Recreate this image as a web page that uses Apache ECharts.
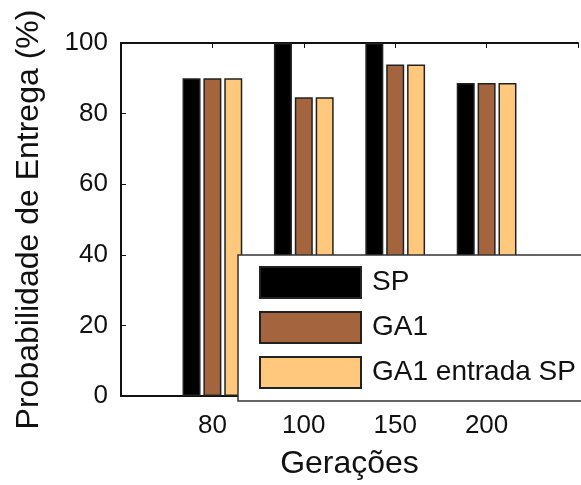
<!DOCTYPE html>
<html>
<head>
<meta charset="utf-8">
<script src="https://cdn.jsdelivr.net/npm/echarts@6/dist/echarts.min.js"></script>
<style>
  html, body { margin: 0; padding: 0; background: #fff; }
  #chart { width: 581px; height: 485px; }
</style>
</head>
<body>
<div id="chart"></div>
<script>
// gerações (categorias no eixo x)
const categories = ['80', '100', '150', '200'];
// probabilidade de entrega (%)
const spValues = [90, 100, 100, 88.7];
const ga1Values = [90, 84.6, 93.9, 88.7];
const ga1spValues = [90, 84.6, 93.9, 88.7];
const yTicks = [0, 20, 40, 60, 80, 100];

const FONT = 'Liberation Sans, Arial, sans-serif';

// posição 1..4 no eixo de valores
function toPoints(vals) {
  return vals.map(function (v, i) { return [i + 1, v]; });
}

const chart = echarts.init(document.getElementById('chart'), null, { renderer: 'canvas' });

const barCommon = {
  type: 'bar',
  barWidth: 18,
  barGap: '16%'
};

chart.setOption({
  animation: false,
  backgroundColor: '#fff',
  grid: { left: 121, top: 43, width: 470, height: 362 },
  legend: {
    orient: 'vertical',
    left: 238,
    top: 255,
    padding: [11, 60, 12, 21],
    itemWidth: 101,
    itemHeight: 31,
    itemGap: 12,
    icon: 'rect',
    backgroundColor: '#fff',
    borderColor: '#333',
    borderWidth: 1.5,
    textStyle: { fontFamily: FONT, fontSize: 28, color: '#111', padding: [0, 0, 0, 6] },
    data: ['SP', 'GA1', 'GA1 entrada SP']
  },
  xAxis: [{
    type: 'value',
    min: 0, max: 5, interval: 1,
    name: 'Gerações',
    nameLocation: 'middle',
    nameGap: 52,
    nameTextStyle: { fontFamily: FONT, fontSize: 32, color: '#111', verticalAlign: 'top' },
    axisLine: { show: true, lineStyle: { color: '#111', width: 2 } },
    axisTick: { show: true, inside: true, length: 5, lineStyle: { color: '#111' } },
    axisLabel: {
      fontFamily: FONT, fontSize: 26, color: '#111', margin: 17,
      formatter: function (v) { return categories[v - 1] || ''; }
    },
    splitLine: { show: false }
  }, {
    type: 'value',
    position: 'top',
    min: 0, max: 5, interval: 1,
    axisLine: { show: true, lineStyle: { color: '#111', width: 2 } },
    axisTick: { show: true, inside: true, length: 5, lineStyle: { color: '#111' } },
    axisLabel: { show: false },
    splitLine: { show: false }
  }],
  yAxis: {
    type: 'value',
    min: yTicks[0], max: yTicks[yTicks.length - 1], interval: 20,
    name: 'Probabilidade de Entrega (%)',
    nameLocation: 'middle',
    nameGap: 76,
    nameTextStyle: { fontFamily: FONT, fontSize: 32, color: '#111' },
    axisLine: { show: true, lineStyle: { color: '#111', width: 2 } },
    axisTick: { show: true, inside: true, length: 5, lineStyle: { color: '#111' } },
    axisLabel: { fontFamily: FONT, fontSize: 26, color: '#111', margin: 13 },
    splitLine: { show: false }
  },
  series: [
    Object.assign({}, barCommon, {
      name: 'SP',
      data: toPoints(spValues),
      itemStyle: { color: '#000', borderColor: '#222', borderWidth: 1.5 }
    }),
    Object.assign({}, barCommon, {
      name: 'GA1',
      data: toPoints(ga1Values),
      itemStyle: { color: '#A3643E', borderColor: '#222', borderWidth: 1.5 }
    }),
    Object.assign({}, barCommon, {
      name: 'GA1 entrada SP',
      data: toPoints(ga1spValues),
      itemStyle: { color: '#FFC87C', borderColor: '#222', borderWidth: 1.5 }
    })
  ]
});
</script>
</body>
</html>
